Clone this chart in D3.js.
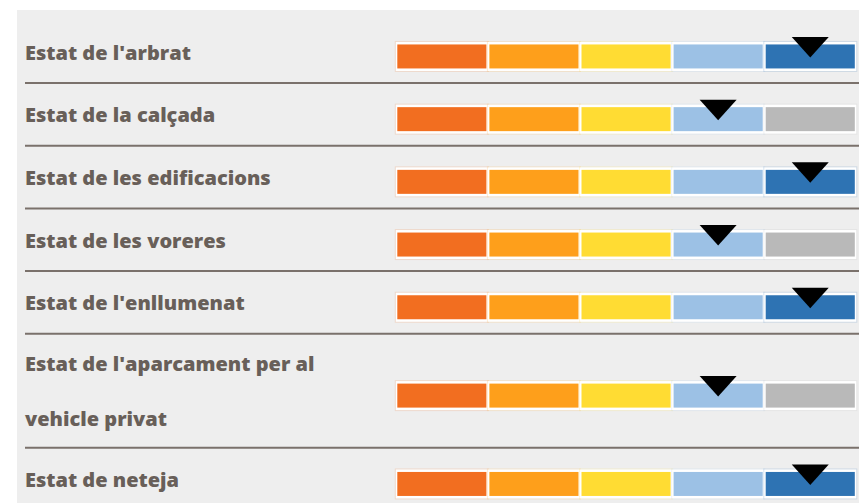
<!DOCTYPE html>
<html>
<head>
<meta charset="utf-8">
<script src="https://cdn.jsdelivr.net/npm/d3@7"></script>
<style>
  html, body { margin: 0; padding: 0; background: #ffffff; }
  svg { display: block; }
</style>
</head>
<body>
<svg id="chart" width="859" height="503"></svg>
<script>
// Survey items (each inner array is one wrapped label)
const labels = [
  ["Estat de l'arbrat"],
  ["Estat de la calçada"],
  ["Estat de les edificacions"],
  ["Estat de les voreres"],
  ["Estat de l'enllumenat"],
  ["Estat de l'aparcament per al", "vehicle privat"],
  ["Estat de neteja"]
];
// Rating given to each item on the 1–5 scale
const ratings = [5, 4, 5, 4, 5, 4, 5];
// Scale steps and their colours
const steps = [1, 2, 3, 4, 5];
const stepColors = ["#f26e20", "#fe9f1b", "#ffdc33", "#9cc1e5", "#2e73b3"];
const emptyColor = "#b9b9b9";

const width = 859, height = 503;
const svg = d3.select("#chart");

// panel background
svg.append("rect")
  .attr("x", 17).attr("y", 10)
  .attr("width", width - 17).attr("height", height - 10)
  .attr("fill", "#eeeeee");

// row layout: height grows with the number of label lines
const singleH = 62.7, extraLineH = 51.3;
const rowH = labels.map(l => singleH + (l.length - 1) * extraLineH);
const rowTop = [];
rowH.reduce((acc, h, i) => { rowTop[i] = acc; return acc + h; }, 20.3);

const labelX = 25;
const x = d3.scaleBand()
  .domain(steps)
  .range([395.8, 856.3])
  .paddingInner(0)
  .paddingOuter(0);

const rows = svg.selectAll("g.row")
  .data(labels.map((l, i) => ({ lines: l, value: ratings[i], top: rowTop[i], h: rowH[i] })))
  .join("g")
  .attr("class", "row");

// labels
rows.each(function(d) {
  const g = d3.select(this);
  const mid = d.top + d.h / 2;
  const lineGap = 55;
  d.lines.forEach((line, j) => {
    const off = (j - (d.lines.length - 1) / 2) * lineGap;
    g.append("text")
      .attr("x", labelX)
      .attr("y", mid + off + 8)
      .attr("font-family", "'Open Sans', sans-serif")
      .attr("font-weight", 800)
      .attr("font-size", 20)
      .attr("fill", "#685f59")
      .text(line);
  });
});

// separators below each row (not after the last)
rows.filter((d, i) => i < labels.length - 1)
  .append("line")
  .attr("x1", labelX).attr("x2", width)
  .attr("y1", d => d.top + d.h).attr("y2", d => d.top + d.h)
  .attr("stroke", "#7a716b")
  .attr("stroke-width", 2);

// rating scale cells
rows.each(function(d) {
  const g = d3.select(this);
  const cy = d.top + d.h / 2 + 4.8;
  const bw = x.bandwidth();
  const cells = g.selectAll("g.cell")
    .data(steps.map((s, k) => ({ step: s, color: s > d.value ? emptyColor : stepColors[k] })))
    .join("g").attr("class", "cell");

  cells.append("rect")
    .attr("x", c => x(c.step) - 1)
    .attr("y", cy - 15.5)
    .attr("width", bw + 2)
    .attr("height", 31)
    .attr("fill", c => c.color)
    .attr("opacity", 0.16);
  cells.append("rect")
    .attr("x", c => x(c.step))
    .attr("y", cy - 14.5)
    .attr("width", bw)
    .attr("height", 29)
    .attr("fill", "#ffffff");
  cells.append("rect")
    .attr("x", c => x(c.step) + 1.5)
    .attr("y", cy - 12)
    .attr("width", bw - 3)
    .attr("height", 24)
    .attr("fill", c => c.color);

  // marker triangle over the rated step
  const mx = x(d.value) + bw / 2;
  g.append("path")
    .attr("d", d3.line()([[mx - 18.5, cy - 19.5], [mx + 18.5, cy - 19.5], [mx, cy + 1]]) + "Z")
    .attr("fill", "#000000");
});
</script>
</body>
</html>
